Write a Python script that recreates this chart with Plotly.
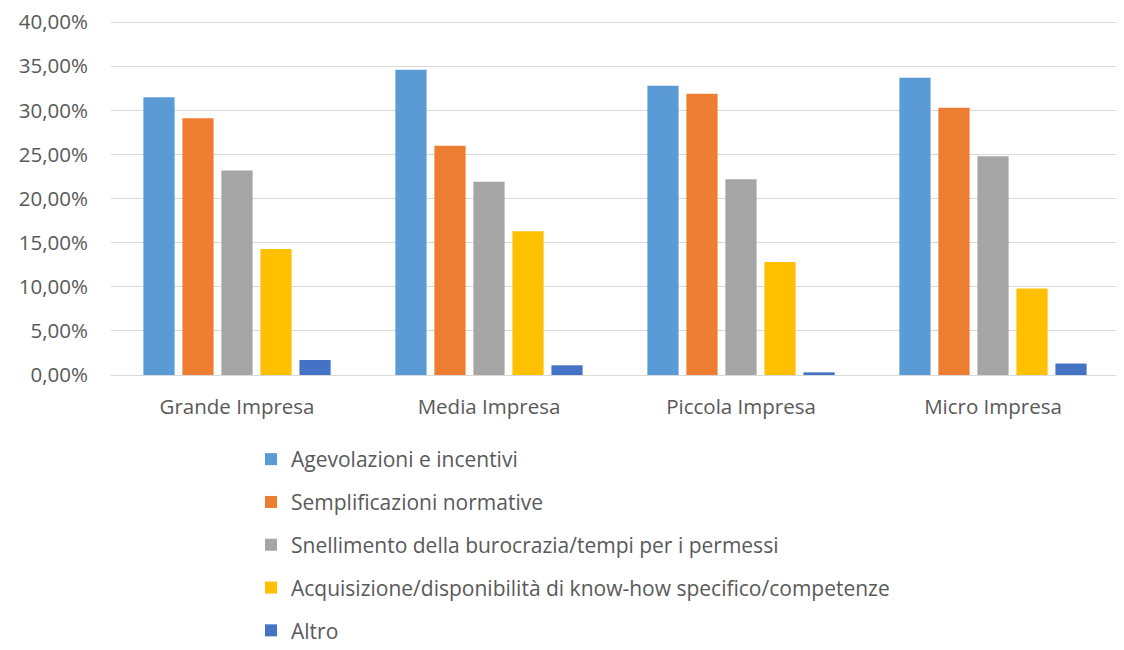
import plotly.graph_objects as go

categories = ["Grande Impresa", "Media Impresa", "Piccola Impresa", "Micro Impresa"]
series_names = [
    "Agevolazioni e incentivi",
    "Semplificazioni normative",
    "Snellimento della burocrazia/tempi per i permessi",
    "Acquisizione/disponibilità di know-how specifico/competenze",
    "Altro",
]
agevolazioni = [0.315, 0.346, 0.328, 0.337]
semplificazioni = [0.291, 0.260, 0.319, 0.303]
snellimento = [0.232, 0.219, 0.222, 0.248]
acquisizione = [0.143, 0.163, 0.128, 0.098]
altro = [0.017, 0.011, 0.003, 0.013]
y_tick_values = [0.0, 0.05, 0.10, 0.15, 0.20, 0.25, 0.30, 0.35, 0.40]
colors = ["#5B9BD5", "#ED7D31", "#A5A5A5", "#FFC000", "#4472C4"]

all_values = [agevolazioni, semplificazioni, snellimento, acquisizione, altro]

fig = go.Figure()
for i, (name, vals, col) in enumerate(zip(series_names, all_values, colors)):
    fig.add_trace(go.Bar(
        x=categories, y=vals, name=name, marker_color=col,
        marker_line_width=0, legendgroup=f"g{i}",
    ))

font_family = "Open Sans, Noto Sans, sans-serif"
fs = 20.5
W, H = 1116, 650
fig.update_layout(
    width=W, height=H,
    margin=dict(l=103, r=5, t=12, b=H - 367, autoexpand=False),
    paper_bgcolor="white", plot_bgcolor="white",
    separators=",.",
    barmode="group", bargap=0.226, bargroupgap=0.2,
    font=dict(family=font_family, size=fs, color="#595959"),
    showlegend=True,
    legend=dict(
        orientation="v", xref="paper", xanchor="left",
        x=(243 - 103) / 1008,
        y=1 - 431 / H, yref="container", yanchor="top",
        font=dict(size=21, color="#595959"),
        traceorder="grouped", tracegroupgap=12.5,
        itemwidth=30,
    ),
    yaxis=dict(
        range=[0, 0.4025], tickmode="array", tickvals=y_tick_values,
        tickformat=".2%", ticklabeloverflow="allow",
        showgrid=True, gridcolor="#D9D9D9", gridwidth=1.3,
        zeroline=True, zerolinecolor="#D9D9D9", zerolinewidth=1.3,
        showline=False, ticks="", ticklabelstandoff=22,
        tickfont=dict(size=fs, color="#595959"), automargin=False,
    ),
    xaxis=dict(
        showgrid=False, showline=False, ticks="",
        tickfont=dict(size=fs, color="#595959"),
        ticklabelstandoff=17, automargin=False,
    ),
)

fig.write_html("out.html")
